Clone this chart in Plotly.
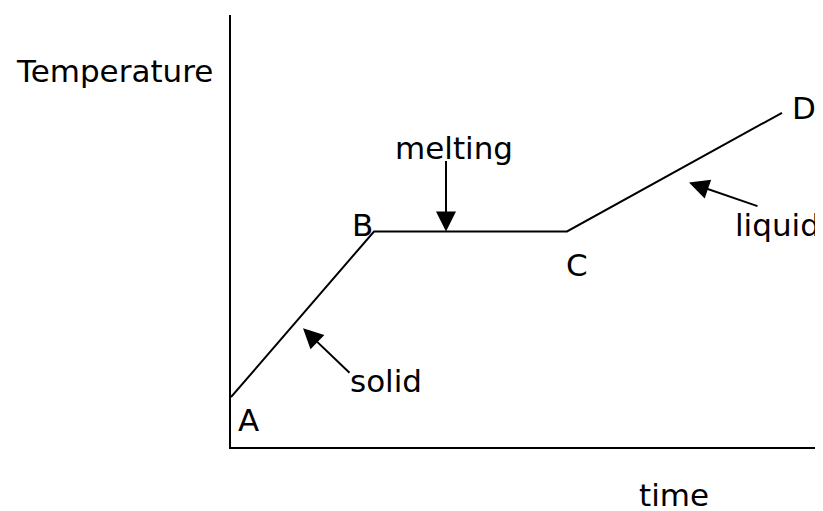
import plotly.graph_objects as go

# heating curve (arbitrary units, no ticks shown)
point_labels = ["A", "B", "C", "D"]
time = [0.0, 14.3, 33.6, 55.1]
temperature = [5.0, 21.6, 21.6, 33.5]

FONT = "DejaVu Sans"


def build_figure():
    """
    DRAW THE A-B-C-D CURVE WITH ITS LABELS AND ARROWS
    """
    fig = go.Figure()
    fig.add_trace(go.Scatter(x=time, y=temperature, mode="lines",
                             line=dict(color="black", width=2),
                             hoverinfo="skip", showlegend=False))

    # letters next to the corner points
    shifts = [(17, -23), (-12, 7), (10, -33), (22, 5)]
    for name, x, y, (dx, dy) in zip(point_labels, time, temperature, shifts):
        fig.add_annotation(x=x, y=y, text=name, showarrow=False,
                           xshift=dx, yshift=dy)

    # arrows pointing at the three stages
    arrows = [
        (21.5, temperature[1], 0, -72),   # melting
        (7.2, 11.9, 48, 46),              # solid
        (45.8, 26.5, 70, 24),             # liquid
    ]
    for x, y, ax, ay in arrows:
        fig.add_annotation(x=x, y=y, ax=ax, ay=ay, text="", showarrow=True,
                           arrowhead=2, arrowsize=2, arrowwidth=2,
                           arrowcolor="black")

    words = [
        ("melting", 22.3, 30.0),
        ("solid", 15.5, 6.6),
        ("liquid", 54.6, 22.3),
    ]
    for text, x, y in words:
        fig.add_annotation(x=x, y=y, text=text, showarrow=False)

    # axis names sit outside the plot area, so place them on the paper
    fig.add_annotation(x=-0.196, y=0.870, xref="paper", yref="paper",
                       xanchor="center", yanchor="middle",
                       text="Temperature", showarrow=False)
    fig.add_annotation(x=0.748, y=-0.112, xref="paper", yref="paper",
                       xanchor="center", yanchor="middle",
                       text="time", showarrow=False)

    # page body keeps an 8px margin, so the figure is 8px smaller
    fig.update_layout(
        width=815, height=503,
        margin=dict(l=223, r=0, t=7, b=64),
        paper_bgcolor="white", plot_bgcolor="white",
        font=dict(family=FONT, size=31, color="black"),
        hovermode=False,
    )
    axis = dict(showgrid=False, zeroline=False, showticklabels=False,
                ticks="", showline=True, linecolor="black", linewidth=2,
                fixedrange=True)
    fig.update_xaxes(range=[0, 59.2], **axis)
    fig.update_yaxes(range=[0, 43.3], **axis)
    return fig


def main():
    fig = build_figure()
    fig.write_html("out.html")


if __name__ == "__main__":
    main()
